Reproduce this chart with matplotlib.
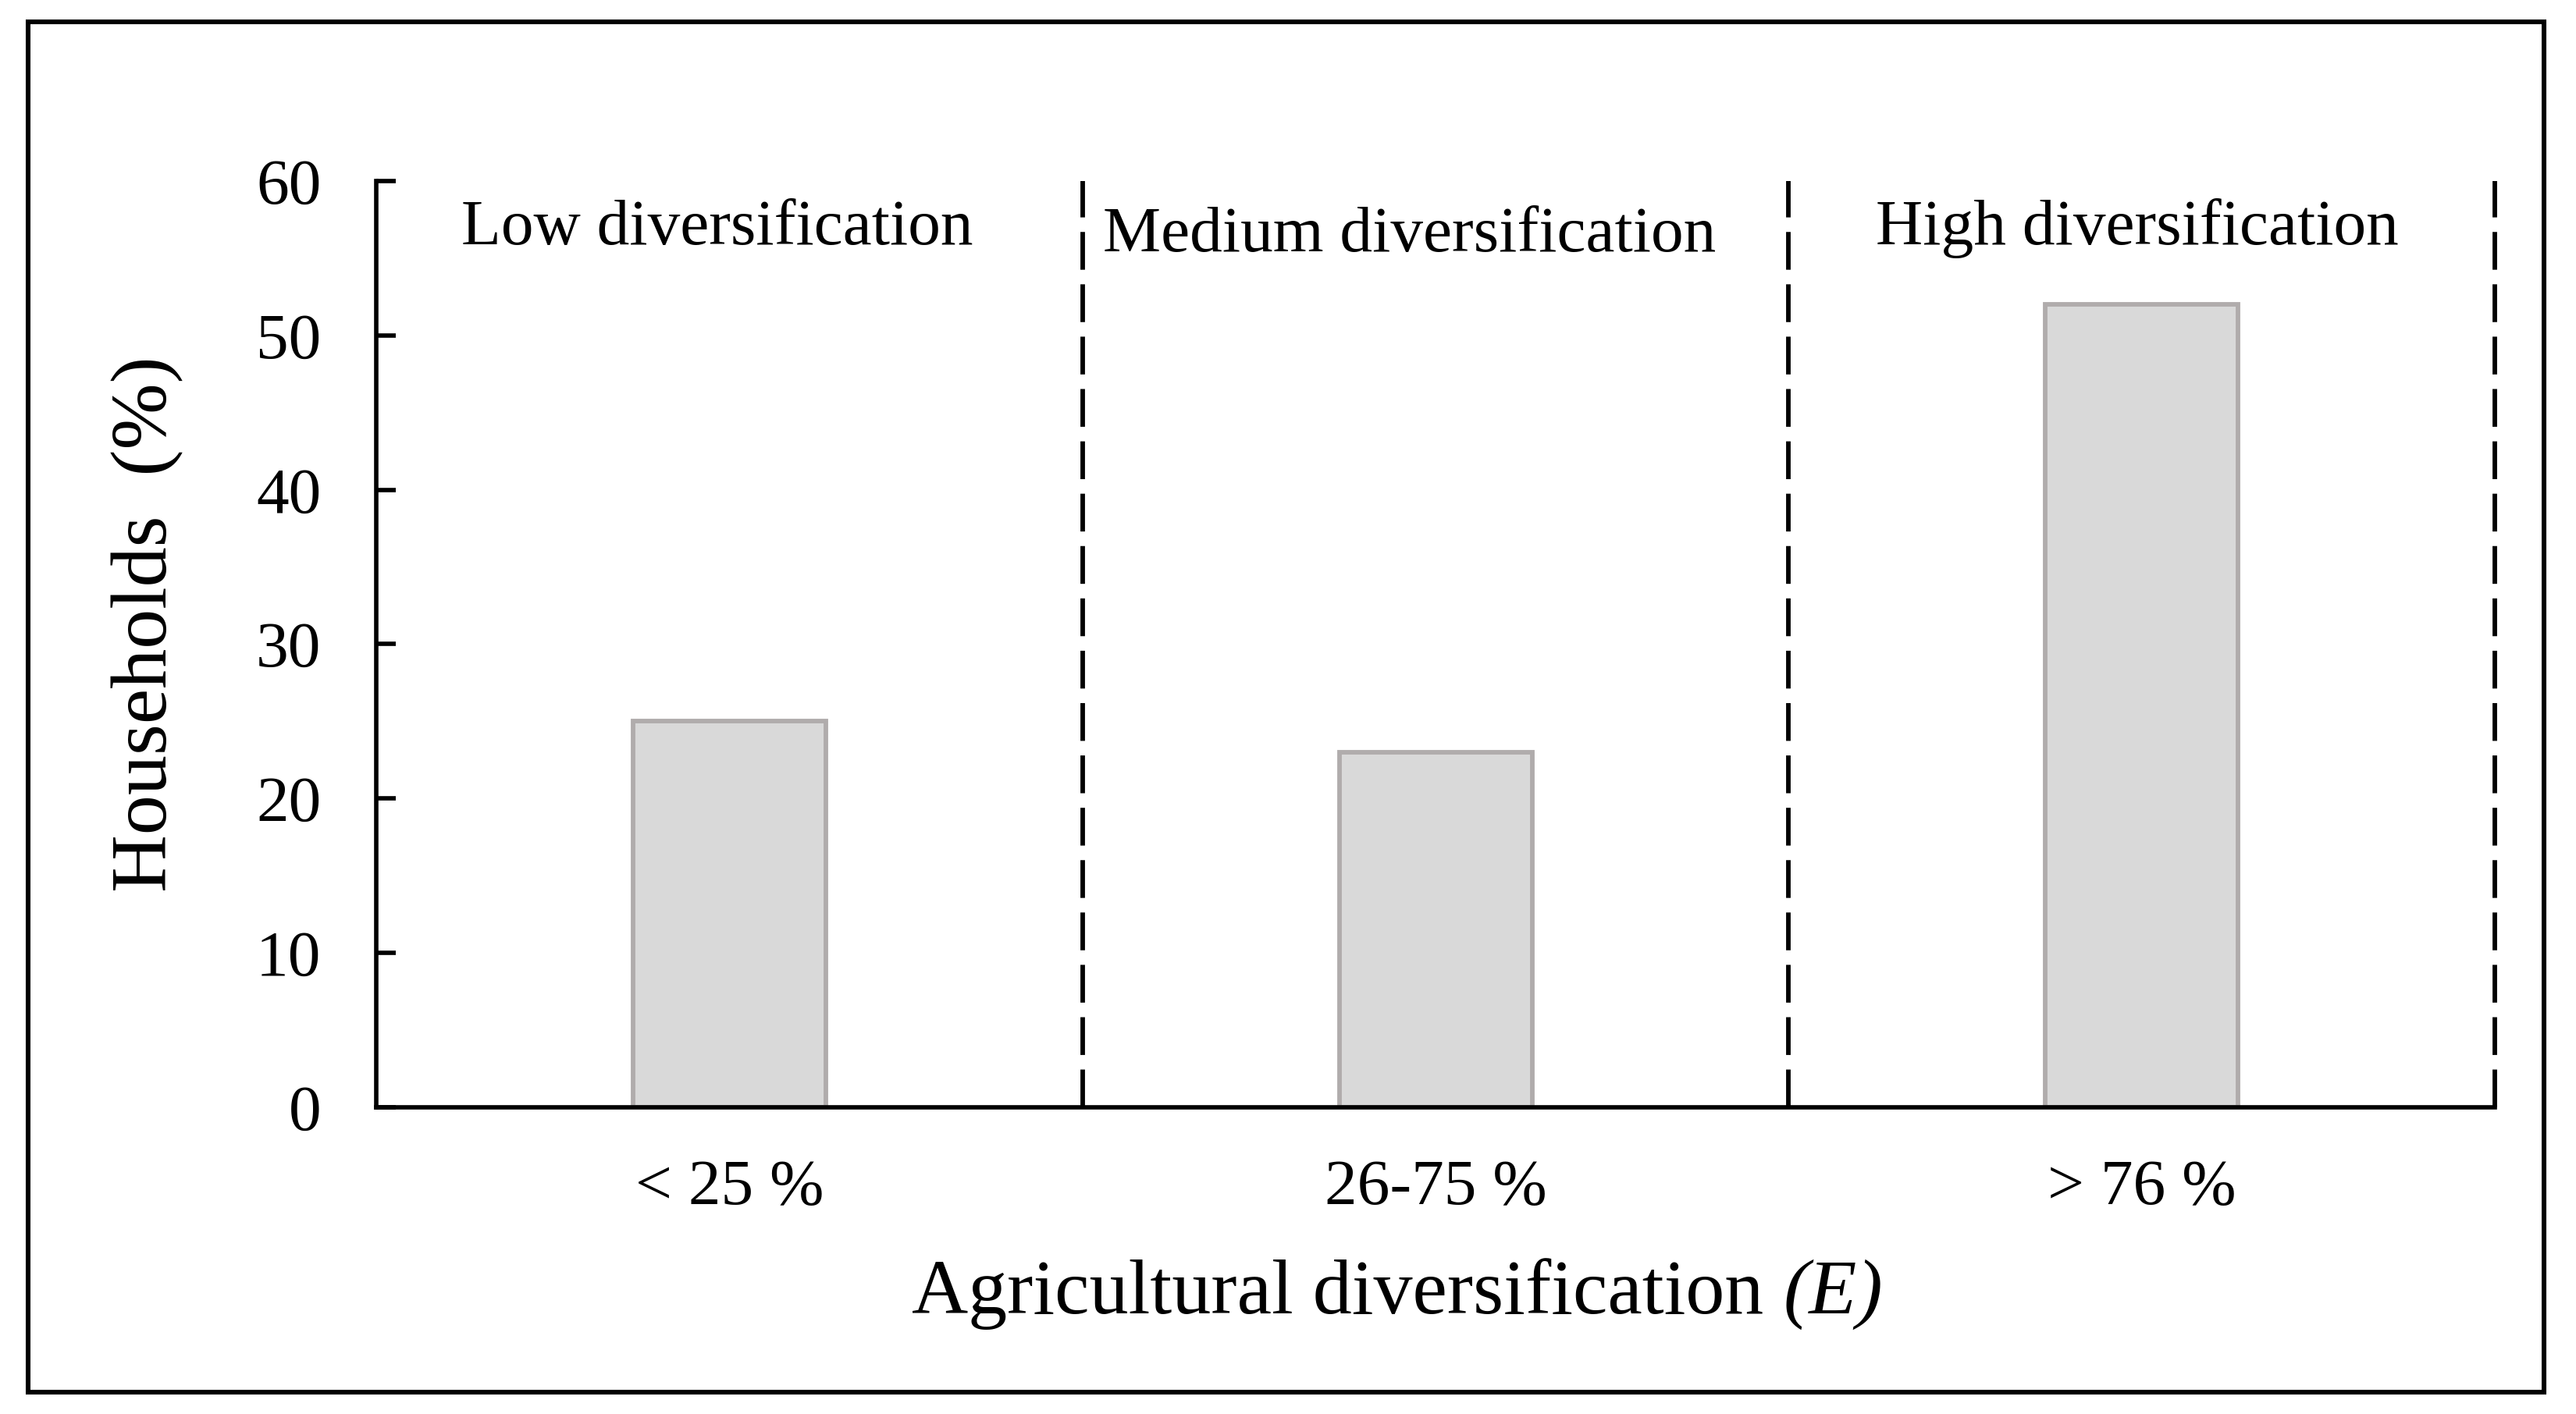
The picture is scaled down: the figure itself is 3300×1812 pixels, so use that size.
import matplotlib
matplotlib.use("Agg")
import matplotlib.pyplot as plt
from matplotlib.patches import Rectangle
from matplotlib.transforms import IdentityTransform

# ---- data ----
categories = ["< 25 %", "26-75 %", "> 76 %"]
households_pct = [25, 23, 52]
group_labels = ["Low diversification", "Medium diversification", "High diversification"]
group_label_x = [-0.017, 0.963, 1.993]
group_label_y = [55.9, 55.45, 55.9]
boundaries = [0.5, 1.5, 2.5]
yticks = [0, 10, 20, 30, 40, 50, 60]
xlabel_main = "Agricultural diversification"
xlabel_italic = "(E)"

plt.rcParams["font.family"] = ["Liberation Serif", "DejaVu Serif"]

W, H, DPI = 11, 6.04, 300
fig = plt.figure(figsize=(W, H), dpi=DPI)
ax = fig.add_axes([0.1461, 0.2169, 0.9685 - 0.1461, 0.872 - 0.2169])

x = list(range(len(categories)))
ax.bar(x, households_pct, width=0.273, color="#d9d9d9", edgecolor="#b0acac",
       linewidth=1.4, zorder=2)

for b in boundaries:
    ax.plot([b, b], [0, 60], color="black", linewidth=1.4, clip_on=False,
            dashes=(8.3, 3.2), zorder=3, dash_capstyle="butt")

for lx, ly, t in zip(group_label_x, group_label_y, group_labels):
    ax.text(lx, ly, t, ha="center", va="baseline", fontsize=20)

ax.set_xlim(-0.5, 2.5)
ax.set_ylim(0, 60)
ax.set_yticks(yticks)
ax.set_xticks(x)
ax.set_xticklabels(categories)

for s in ["top", "right"]:
    ax.spines[s].set_visible(False)
for s in ["left", "bottom"]:
    ax.spines[s].set_linewidth(1.35)
    ax.spines[s].set_color("black")
    ax.spines[s].set_zorder(4)

ax.tick_params(axis="y", direction="in", length=6, width=1.35, pad=17, labelsize=20)
ax.tick_params(axis="x", length=0, pad=16, labelsize=20)

ax.set_ylabel("Households  (%)", fontsize=24.5)
ax.yaxis.set_label_coords(-0.091, 0.522)

# x label: regular part + italic "(E)"
XL_FS = 24
lab = ax.set_xlabel(xlabel_main, fontsize=XL_FS)
it = ax.text(0, 0, xlabel_italic, fontsize=XL_FS, fontstyle="italic",
             transform=IdentityTransform(), ha="left", va="baseline")
fig.canvas.draw()
r = fig.canvas.get_renderer()
w1 = lab.get_window_extent(r).width
w2 = it.get_window_extent(r).width
space = 0.25 * XL_FS * DPI / 72
total = w1 + space + w2
center_px = 1790
ax_left_px = 0.1461 * W * DPI
ax_w_px = (0.9685 - 0.1461) * W * DPI
ax_bot_px = 0.2169 * H * DPI
ax_h_px = (0.872 - 0.2169) * H * DPI
left_px = center_px - total / 2
baseline_y_img = 1683  # from top of image
baseline_disp = H * DPI - baseline_y_img
lab.set_verticalalignment("baseline")
ax.xaxis.set_label_coords((left_px + w1 / 2 - ax_left_px) / ax_w_px,
                          (baseline_disp - ax_bot_px) / ax_h_px)
it.set_position((left_px + w1 + space, baseline_disp))

# outer frame
fig.patches.append(Rectangle((0.0109, 0.01545), 0.9767, 0.9691, transform=fig.transFigure,
                             fill=False, edgecolor="black", linewidth=1.45))

fig.savefig("out.png", dpi=DPI, facecolor="white")
